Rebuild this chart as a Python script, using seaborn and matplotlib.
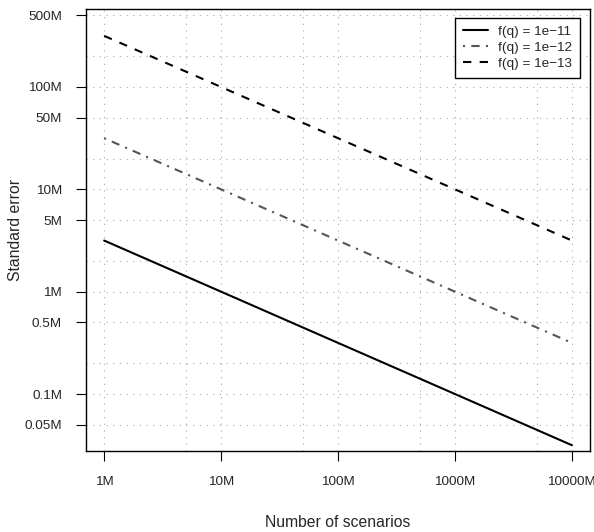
import numpy as np
import pandas as pd
import matplotlib
matplotlib.use("Agg")
import matplotlib.pyplot as plt
import seaborn as sns
from matplotlib.ticker import FixedLocator, NullFormatter

# ---- data ----
scenarios = [1e6, 1e7, 1e8, 1e9, 1e10]
se_1e11 = [3.16e6, 1.0e6, 3.16e5, 1.0e5, 3.16e4]
se_1e12 = [3.16e7, 1.0e7, 3.16e6, 1.0e6, 3.16e5]
se_1e13 = [3.16e8, 1.0e8, 3.16e7, 1.0e7, 3.16e6]
series_names = ["f(q) = 1e\u221211", "f(q) = 1e\u221212", "f(q) = 1e\u221213"]

x_ticks = [1e6, 1e7, 1e8, 1e9, 1e10]
x_ticklabels = ["1M", "10M", "100M", "1000M", "10000M"]
y_ticks = [5e4, 1e5, 5e5, 1e6, 5e6, 1e7, 5e7, 1e8, 5e8]
y_ticklabels = ["0.05M", "0.1M", "0.5M", "1M", "5M", "10M", "50M", "100M", "500M"]
x_grid = [1e6, 5e6, 1e7, 5e7, 1e8, 5e8, 1e9, 5e9, 1e10]
y_grid = [5e4, 1e5, 2e5, 5e5, 1e6, 2e6, 5e6, 1e7, 2e7, 5e7, 1e8, 2e8, 5e8]

df = pd.DataFrame({
    "n": scenarios * 3,
    "se": se_1e11 + se_1e12 + se_1e13,
    "series": [series_names[0]] * 5 + [series_names[1]] * 5 + [series_names[2]] * 5,
})

TICK_FS = 9.7
LAB_FS = 11.3

sns.set_style("white")
plt.rcParams["font.family"] = ["Liberation Sans", "DejaVu Sans"]
plt.rcParams["font.size"] = TICK_FS

fig = plt.figure(figsize=(5.94, 5.32), dpi=100)
ax = fig.add_axes([86 / 594, 1 - 450.7 / 532, 504 / 594, 442 / 532])

palette = {series_names[0]: "black", series_names[1]: "#555555", series_names[2]: "black"}
dashes = {series_names[0]: "", series_names[1]: (1, 3, 4, 3), series_names[2]: (4, 4)}
sns.lineplot(data=df, x="n", y="se", hue="series", style="series",
             palette=palette, dashes=dashes, linewidth=1.5, ax=ax,
             legend=True)

ax.set_xscale("log")
ax.set_yscale("log")
ax.set_xlim(10 ** 5.845, 10 ** 10.155)
ax.set_ylim(10 ** 4.446, 10 ** 8.765)

ax.xaxis.remove_overlapping_locs = False
ax.yaxis.remove_overlapping_locs = False
ax.xaxis.set_major_locator(FixedLocator(x_ticks))
ax.set_xticklabels(x_ticklabels)
ax.yaxis.set_major_locator(FixedLocator(y_ticks))
ax.set_yticklabels(y_ticklabels)
ax.xaxis.set_minor_locator(FixedLocator(x_grid))
ax.yaxis.set_minor_locator(FixedLocator(y_grid))
ax.xaxis.set_minor_formatter(NullFormatter())
ax.yaxis.set_minor_formatter(NullFormatter())
ax.tick_params(which="major", direction="out", length=7.2, width=0.8, color="black",
               labelsize=TICK_FS, bottom=True, left=True)
ax.tick_params(axis="x", which="major", pad=11)
ax.tick_params(axis="y", which="major", pad=10)
ax.tick_params(which="minor", length=0)

ax.grid(False)
ax.xaxis.grid(True, which="minor", color="#a8a8a8", linestyle=(0, (1, 5)), linewidth=0.8)
ax.yaxis.grid(True, which="minor", color="#a8a8a8", linestyle=(0, (1, 5)), linewidth=0.8)
ax.set_axisbelow(True)

for s in ax.spines.values():
    s.set_visible(True)
    s.set_color("black")
    s.set_linewidth(1.0)

ax.set_xlabel("Number of scenarios", fontsize=LAB_FS)
ax.set_ylabel("Standard error", fontsize=LAB_FS)
ax.xaxis.set_label_coords(0.5, -(522.7 - 450.7) / 442)
ax.xaxis.label.set_va("center")
ax.yaxis.set_label_coords((15.8 - 86) / 504, 0.5)
ax.yaxis.label.set_va("center")

leg = ax.legend(loc="upper right", bbox_to_anchor=(580 / 594, 1 - 17.7 / 532),
                bbox_transform=fig.transFigure, frameon=True, fancybox=False,
                edgecolor="black", framealpha=1, fontsize=TICK_FS,
                handlelength=1.8, handletextpad=0.75, labelspacing=0.25,
                borderpad=0.6, borderaxespad=0)
leg.get_frame().set_linewidth(1.0)
for h in leg.get_lines():
    h.set_linewidth(1.5)

fig.savefig("out.png", dpi=100)
